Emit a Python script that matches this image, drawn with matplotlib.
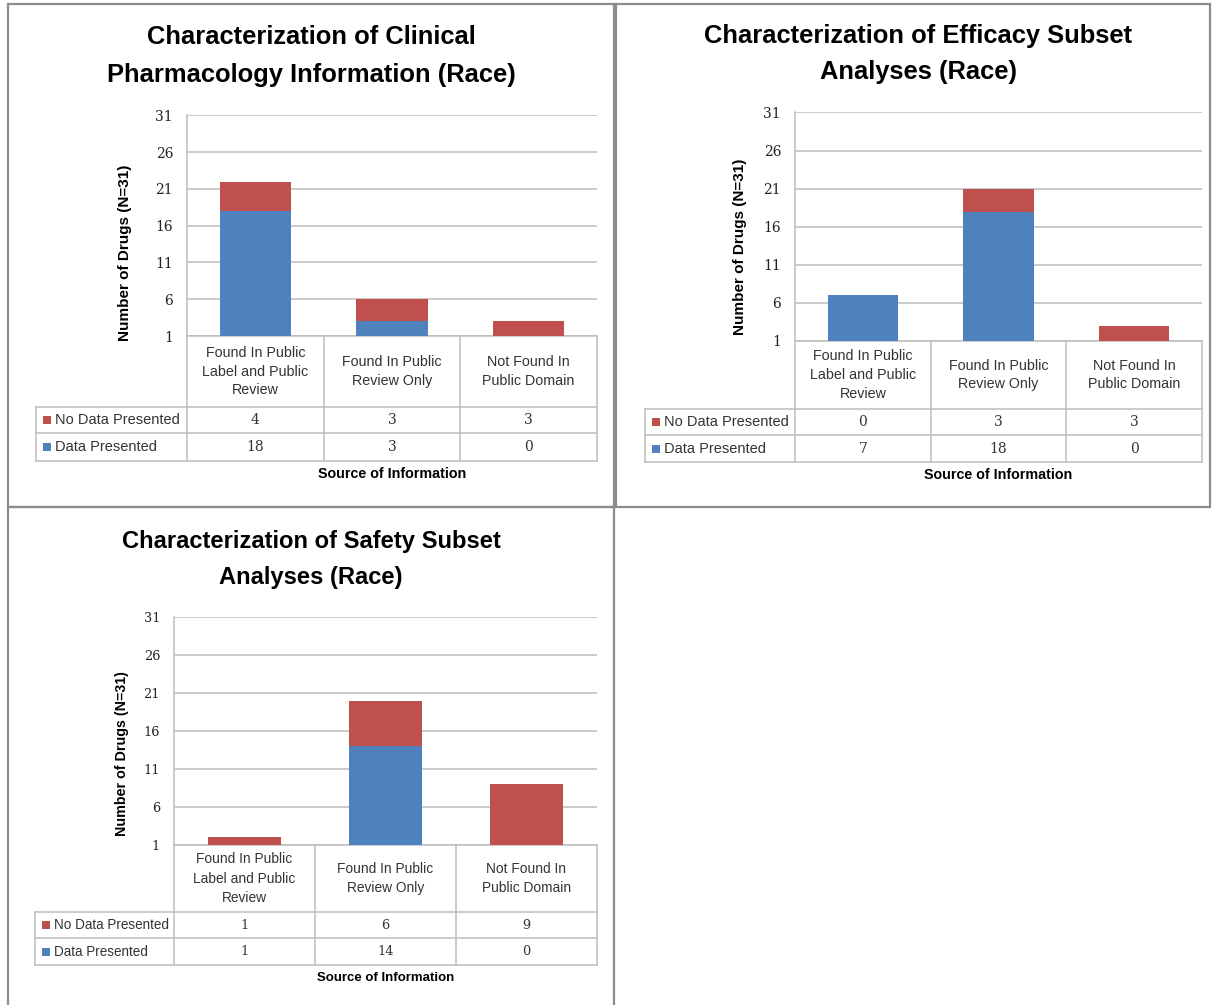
import matplotlib
matplotlib.use("Agg")
import matplotlib.pyplot as plt
from matplotlib.patches import Rectangle
from matplotlib.lines import Line2D

# categories and counts (N=31 drugs)
categories = ["Found In Public\nLabel and Public\nReview",
              "Found In Public\nReview Only",
              "Not Found In\nPublic Domain"]
series_names = ["No Data Presented", "Data Presented"]

titles = ["Characterization of Clinical\nPharmacology Information (Race)",
          "Characterization of Efficacy Subset\nAnalyses (Race)",
          "Characterization of Safety Subset\nAnalyses (Race)"]

clin_data = [18, 3, 0]
clin_nodata = [4, 3, 3]
eff_data = [7, 18, 0]
eff_nodata = [0, 3, 3]
safety_data = [1, 14, 0]
safety_nodata = [1, 6, 9]

yticks = [1, 6, 11, 16, 21, 26, 31]

BLUE = "#4F81BD"
RED = "#C0504D"
GRID = "#BDBDBD"
FRAME = "#8C8C8C"
SANS = ["Liberation Sans", "DejaVu Sans"]
SERIF = ["DejaVu Serif"]

W, H = 1212, 1005
fig = plt.figure(figsize=(W / 100, H / 100), dpi=100)
fig.patch.set_facecolor("white")

# overlay in pixel coordinates for frames, table and labels
ov = fig.add_axes([0, 0, 1, 1])
ov.set_xlim(0, W)
ov.set_ylim(H, 0)
ov.axis("off")

# panel geometry in pixels, fs = text scale of the panel
panels = [
    dict(L=187, R=597, T=115.5, B=336, rows=(407, 433, 461), tl=36,
         tx=311, ty=(37, 75), lx=125, ly=253, sy=474, fs=1.0, cs=1.0,
         frame=(8, 4, 614, 507)),
    dict(L=795, R=1202, T=112.5, B=341, rows=(409, 435, 462), tl=645,
         tx=918, ty=(36, 72), lx=740, ly=247, sy=475, fs=1.0, cs=1.0,
         frame=(616, 4, 1210, 507)),
    dict(L=174, R=597, T=617, B=845, rows=(912, 938, 965), tl=35,
         tx=311, ty=(541, 577), lx=122, ly=754, sy=978, fs=0.93, cs=0.96,
         frame=(8, 507, 614, 1010)),
]
values = [(clin_nodata, clin_data), (eff_nodata, eff_data),
          (safety_nodata, safety_data)]


def hline(y, x0, x1):
    ov.add_line(Line2D([x0, x1], [y, y], color=GRID, lw=1.1))


def vline(x, y0, y1):
    ov.add_line(Line2D([x, x], [y0, y1], color=GRID, lw=1.1))


for p, title, (nodata, data) in zip(panels, titles, values):
    fs = p["fs"]
    x0, y0, x1, y1 = p["frame"]
    ov.add_patch(Rectangle((x0, y0), x1 - x0, y1 - y0, fill=False,
                           edgecolor=FRAME, lw=1.6))

    L, R, T, B = p["L"], p["R"], p["T"], p["B"]
    ax = fig.add_axes([L / W, (H - B) / H, (R - L) / W, (B - T) / H])
    xs = [0.5, 1.5, 2.5]
    ax.bar(xs, data, width=0.52, color=BLUE, zorder=3)
    ax.bar(xs, nodata, width=0.52, bottom=data, color=RED, zorder=3)
    ax.set_xlim(0, 3)
    ax.set_ylim(1, 31)
    ax.set_yticks(yticks)
    ax.set_yticklabels([str(t) for t in yticks], family=SERIF,
                       fontsize=10 * fs, color="#222222")
    ax.set_xticks([])
    ax.tick_params(axis="y", length=0, pad=10)
    ax.yaxis.grid(True, color=GRID, lw=1.1)
    ax.set_axisbelow(True)
    for s in ["top", "right"]:
        ax.spines[s].set_visible(False)
    for s in ["left", "bottom"]:
        ax.spines[s].set_color(GRID)
        ax.spines[s].set_linewidth(1.1)

    # title, axis labels
    for line, ty in zip(title.split("\n"), p["ty"]):
        ov.text(p["tx"], ty, line, ha="center", va="center",
                family=SANS, fontweight="bold", fontsize=18.4 * fs)
    ov.text(p["lx"], p["ly"], "Number of Drugs (N=31)", rotation=90,
            ha="center", va="center", family=SANS, fontweight="bold",
            fontsize=11 * fs)
    ov.text((L + R) / 2, p["sy"], "Source of Information", ha="center",
            va="center", family=SANS, fontweight="bold", fontsize=10.3 * fs)

    # data table below the plot
    r1, r2, r3 = p["rows"]
    tl = p["tl"]
    cw = (R - L) / 3
    for i in range(4):
        vline(L + i * cw, B, r3)
    vline(tl, r1, r3)
    for y in (r1, r2, r3):
        hline(y, tl, R)
    for i, cat in enumerate(categories):
        ov.text(L + (i + 0.5) * cw, (B + r1) / 2, cat, ha="center",
                va="center", family=SANS, fontsize=10.3 * p["cs"],
                color="#333333", linespacing=1.45 / p["cs"])
    for (ya, yb), name, color, vals in zip([(r1, r2), (r2, r3)], series_names,
                                           [RED, BLUE], [nodata, data]):
        yc = (ya + yb) / 2
        ov.add_patch(Rectangle((tl + 7, yc - 4), 8, 8, color=color, lw=0))
        ov.text(tl + 19, yc, name, ha="left", va="center", family=SANS,
                fontsize=10.5 * fs, color="#333333")
        for i, v in enumerate(vals):
            ov.text(L + (i + 0.5) * cw, yc, str(v), ha="center", va="center",
                    family=SERIF, fontsize=10 * fs, color="#333333")

fig.savefig("out.png", dpi=100, facecolor="white")
